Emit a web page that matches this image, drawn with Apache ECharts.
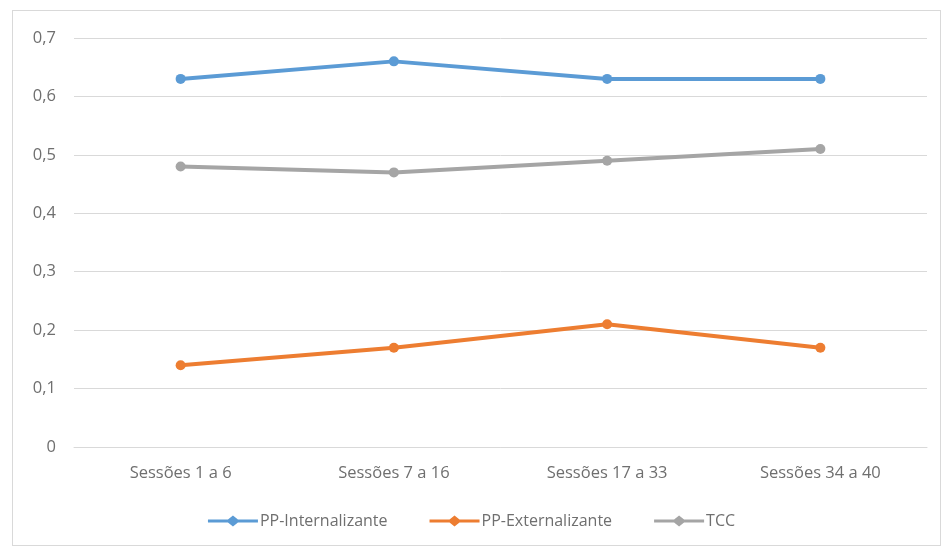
<!DOCTYPE html>
<html><head><meta charset="utf-8">
<script src="https://cdn.jsdelivr.net/npm/echarts@6/dist/echarts.min.js"></script>
<style>
html,body{margin:0;padding:0;background:#fff;}
#frame{position:absolute;left:12px;top:10px;width:929px;height:536px;border:1px solid #d9d9d9;box-sizing:border-box;}
#chart{position:absolute;left:0;top:0;width:943px;height:548px;}
</style></head>
<body>
<div id="frame"></div>
<div id="chart"></div>
<script>
const categories = ["Sessões 1 a 6", "Sessões 7 a 16", "Sessões 17 a 33", "Sessões 34 a 40"];
const ppInternalizante = [0.63, 0.66, 0.63, 0.63];
const ppExternalizante = [0.14, 0.17, 0.21, 0.17];
const tcc = [0.48, 0.47, 0.49, 0.51];
const seriesNames = ["PP-Internalizante", "PP-Externalizante", "TCC"];
const colors = ["#5B9BD5", "#ED7D31", "#A5A5A5"];
const font = "'Open Sans', sans-serif";

const chart = echarts.init(document.getElementById('chart'));
function mk(name, data, color) {
  return {
    name: name, type: 'line', data: data,
    symbol: 'circle', symbolSize: 10,
    lineStyle: {width: 4, color: color},
    itemStyle: {color: color},
    emphasis: {disabled: true}
  };
}
chart.setOption({
  animation: false,
  grid: {left: 74, right: 16, top: 38, bottom: 101, containLabel: false},
  legend: {
    bottom: 14, left: 'center', itemWidth: 50, itemHeight: 11, itemGap: 42,
    textStyle: {color: '#6f6f6f', fontSize: 16, fontFamily: font, padding: [0, 0, 0, -3]},
    data: seriesNames.map(n => ({name: n, icon: 'path://M0,4 L20,4 L25,0 L30,4 L50,4 L50,7 L30,7 L25,11 L20,7 L0,7 Z'}))
  },
  xAxis: {
    type: 'category', data: categories, boundaryGap: true,
    axisLine: {lineStyle: {color: '#d9d9d9', width: 1}},
    axisTick: {show: false},
    axisLabel: {color: '#6f6f6f', fontSize: 16.5, fontFamily: font, margin: 18}
  },
  yAxis: {
    type: 'value', min: 0, max: 0.7, interval: 0.1,
    axisLine: {show: false}, axisTick: {show: false},
    splitLine: {lineStyle: {color: '#d9d9d9', width: 1}},
    axisLabel: {color: '#6f6f6f', fontSize: 16.5, fontFamily: font, margin: 18,
      formatter: v => (Math.round(v * 10) / 10).toString().replace('.', ',')}
  },
  series: [
    mk(seriesNames[0], ppInternalizante, colors[0]),
    mk(seriesNames[1], ppExternalizante, colors[1]),
    mk(seriesNames[2], tcc, colors[2])
  ]
});
</script>
</body></html>
